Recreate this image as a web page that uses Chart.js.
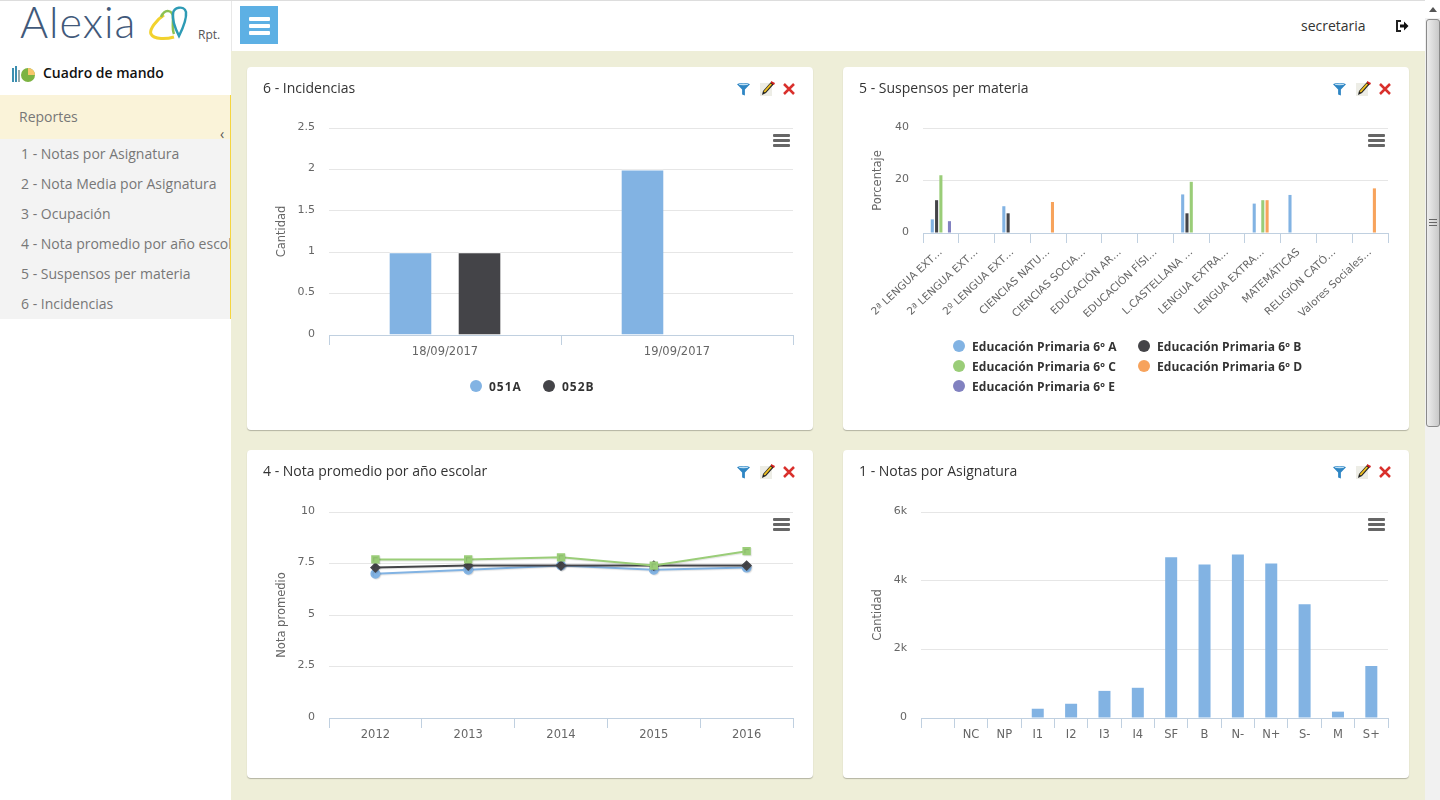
<!DOCTYPE html>
<html lang="es">
<head>
<meta charset="utf-8">
<title>Alexia Rpt.</title>
<script src="https://cdn.jsdelivr.net/npm/chart.js@4"></script>
<style>
  html, body { margin: 0; padding: 0; width: 1440px; height: 800px; overflow: hidden; background: #EEEED8; font-family: "Open Sans", sans-serif; color: #333; }
  .abs { position: absolute; }
  #topline { left: 0; top: 0; width: 1425px; height: 1px; background: #ddd; z-index: 5; }
  #sidebar { left: 0; top: 0; width: 231px; height: 800px; background: #fff; }
  #header { left: 231px; top: 0; width: 1194px; height: 51px; background: #fff; border-left: 1px solid #e8e8e8; box-sizing: border-box; }
  #logo { left: 20px; top: -4px; font: 300 43px Lato, sans-serif; color: #41597A; letter-spacing: 1px; }
  #rpt { left: 198px; top: 26px; font-size: 12px; color: #555; }
  #mando { left: 43px; top: 63px; font-size: 14px; font-weight: 600; color: #111; }
  #reportes { left: 0; top: 95px; width: 230px; height: 44px; background: #FAF3D9; }
  #reportes span { position: absolute; left: 19px; top: 12px; font-size: 14px; color: #777; }
  #chev { left: 220px; top: 124px; font-size: 14px; color: #555; }
  #menu { left: 0; top: 139px; width: 230px; height: 180px; background: #F3F3F3; overflow: hidden; }
  #menu div { height: 30px; line-height: 30px; padding-left: 21px; font-size: 14px; color: #777; white-space: nowrap; }
  #edge { left: 230px; top: 95px; width: 1px; height: 224px; background: #F5D53F; }
  #burger { left: 240px; top: 6px; width: 38px; height: 38px; background: #5DB0E4; }
  #burger i { position: absolute; left: 9px; width: 21px; height: 3.5px; background: #fff; border-radius: 1px; }
  #user { left: 1301px; top: 16px; font-size: 14px; color: #333; }
  #scroll { left: 1425px; top: 0; width: 15px; height: 800px; background: #F1F1F1; }
  #scrolltop { left: 1425px; top: 0; width: 15px; height: 18px; background: #fff; }
  #arrow { left: 1429px; top: 7px; width: 0; height: 0; border-left: 4px solid transparent; border-right: 4px solid transparent; border-bottom: 5px solid #555; }
  #thumb { left: 1426px; top: 19px; width: 14px; height: 408px; background: linear-gradient(to right, #EDEDED, #C9C9C9); border: 1px solid #8A8A8A; border-radius: 3px; box-sizing: border-box; }
  #grip { left: 1429px; top: 219px; width: 8px; height: 7px; background: repeating-linear-gradient(to bottom, #666 0, #666 1px, transparent 1px, transparent 3px); }
  .card { position: absolute; background: #fff; border-radius: 4px; box-shadow: 0 1px 1px rgba(0,0,0,.25); }
  .card h3 { position: absolute; left: 16px; top: 11px; margin: 0; font-size: 14px; font-weight: 400; color: #333; }
  .card canvas { position: absolute; left: 0; top: 0; }
  .ctx { position: absolute; width: 17px; height: 13px; }
  .ctx i { display: block; height: 3px; margin-bottom: 2px; background: #666; border-radius: 1px; }
  .tool { position: absolute; top: 15px; }
  .leg { position: absolute; font-size: 12px; font-weight: 700; color: #333; white-space: nowrap; line-height: 16px; }
  .dot { position: absolute; width: 12px; height: 12px; border-radius: 50%; }
</style>
</head>
<body>
<div class="abs" id="sidebar"></div>
<div class="abs" id="header"></div>
<div class="abs" id="topline"></div>
<div class="abs" id="logo">Alexia</div>
<svg class="abs" style="left:148px;top:5px" width="42" height="38" viewBox="0 0 42 38" fill="none">
  <path d="M16 10C8 15 1 25 3 29c3 6 16 5 23 3" stroke="#F2D22E" stroke-width="3"/>
  <path d="M13 12c4-9 12-7 12 1 0 6-1 11 1 16" stroke="#8CC152" stroke-width="2.500"/>
  <path d="M25 9c0-7 11-9 13-2 1 8-4 18-7 24-3-6-7-15-6-22z" stroke="#2E9BB5" stroke-width="2.500"/>
</svg>
<div class="abs" id="rpt">Rpt.</div>
<svg class="abs" style="left:12px;top:63px" width="24" height="20" viewBox="0 0 24 20">
  <rect x="0" y="5" width="2" height="14" fill="#3D8FB0"/><rect x="3" y="3" width="2" height="16" fill="#3D8FB0"/><rect x="6" y="7" width="2" height="12" fill="#9aa"/>
  <circle cx="16" cy="12" r="7" fill="#7CB342"/><path d="M16 12V5a7 7 0 0 1 7 7z" fill="#F8C66B"/>
</svg>
<div class="abs" id="mando">Cuadro de mando</div>
<div class="abs" id="reportes"><span>Reportes</span></div>
<div class="abs" id="chev">‹</div>
<div class="abs" id="menu"></div>
<div class="abs" id="edge"></div>
<div class="abs" id="burger"><i style="top:11px"></i><i style="top:18px"></i><i style="top:25px"></i></div>
<div class="abs" id="user">secretaria</div>
<svg class="abs" style="left:1396px;top:20px" width="13" height="12" viewBox="0 0 13 12">
  <path d="M5 1H1v10h4" fill="none" stroke="#222" stroke-width="2"/><path d="M4 4.500h4V1.500L12.500 6 8 10.500v-3H4z" fill="#111"/>
</svg>
<div class="abs" id="scroll"></div>
<div class="abs" id="scrolltop"></div>
<div class="abs" id="arrow"></div>
<div class="abs" id="thumb"></div>
<div class="abs" id="grip"></div>
<div id="cards"></div>

<script>
const BLUE = '#82B3E3', DARK = '#444448', GREEN = '#9ACD78', ORANGE = '#F7A35C', PURPLE = '#8181C0';
const GRID = '#E6E6E6', AXIS = '#C0D0E0', TICK = '#666';
const Y_FONT = { family: 'DejaVu Sans', size: 11 };
const X_FONT = { family: 'DejaVu Sans', size: 11.5 };
const ROT_FONT = { family: 'DejaVu Sans', size: 10.5 };

const menuItems = ['1 - Notas por Asignatura', '2 - Nota Media por Asignatura', '3 - Ocupación', '4 - Nota promedio por año escolar', '5 - Suspensos per materia', '6 - Incidencias'];

// 6 - Incidencias
const incDates = ['18/09/2017', '19/09/2017'];
const inc051A = [1, 2];
const inc052B = [1, null];

// 5 - Suspensos per materia
const susLabels = ['2ª LENGUA EXT…', '2ª LENGUA EXT…', '2º LENGUA EXT…', 'CIENCIAS NATU…', 'CIENCIAS SOCIA…', 'EDUCACIÓN AR…', 'EDUCACIÓN FÍSI…', 'L.CASTELLANA …', 'LENGUA EXTRA…', 'LENGUA EXTRA…', 'MATEMÁTICAS', 'RELIGIÓN CATÓ…', 'Valores Sociales…'];
const sus6A = [5.2, null, 10.2, null, null, null, null, 14.7, null, 11.2, 14.5, null, null];
const sus6B = [12.5, null, 7.5, null, null, null, null, 7.5, null, null, null, null, null];
const sus6C = [22, null, null, null, null, null, null, 19.5, null, 12.5, null, null, null];
const sus6D = [null, null, null, 11.8, null, null, null, null, null, 12.5, null, null, 17];
const sus6E = [4.5, null, null, null, null, null, null, null, null, null, null, null, null];

// 4 - Nota promedio por año escolar
const years = ['2012', '2013', '2014', '2015', '2016'];
const notaA = [7, 7.2, 7.4, 7.2, 7.3];
const notaB = [7.3, 7.4, 7.4, 7.4, 7.4];
const notaC = [7.7, 7.7, 7.8, 7.4, 8.1];

// 1 - Notas por Asignatura
const notaLabels = ['', 'NC', 'NP', 'I1', 'I2', 'I3', 'I4', 'SF', 'B', 'N-', 'N+', 'S-', 'M', 'S+'];
const notaCount = [null, null, null, 270, 415, 790, 880, 4680, 4470, 4760, 4500, 3310, 185, 1515];

document.getElementById('menu').innerHTML = menuItems.map(t => '<div>' + t + '</div>').join('');

// soft shadow under the lines of the year chart
const lineShadow = {
  id: 'lineShadow',
  beforeDatasetsDraw(chart) {
    const c = chart.ctx;
    c.save();
    c.shadowColor = 'rgba(0,0,0,0.1)';
    c.shadowOffsetX = 1;
    c.shadowOffsetY = 1;
    c.shadowBlur = 1;
  },
  afterDatasetsDraw(chart) { chart.ctx.restore(); }
};

// box: the card on the page, plot: the plot area on the page
function addCard(title, box, plot, titleX, config, legend) {
  const card = document.createElement('div');
  card.className = 'card';
  card.style.cssText = `left:${box.x}px;top:${box.y}px;width:${box.w}px;height:${box.h}px`;
  card.innerHTML = `<canvas width="${box.w}" height="${box.h}"></canvas><h3>${title}</h3>`;
  document.getElementById('cards').appendChild(card);

  // toolbar icons
  const ix = box.w - 76;
  card.insertAdjacentHTML('beforeend', `
    <svg class="tool" style="left:${ix}px" width="13" height="14" viewBox="0 0 14 14"><path d="M0 2c2-2 12-2 14 0L8.500 7.500V14L5.500 13V7.500z" fill="#2F86C4"/><ellipse cx="7" cy="2" rx="5" ry="1" fill="#BFE0F5"/></svg>
    <svg class="tool" style="left:${ix + 23}px;top:14px" width="15" height="16" viewBox="0 0 15 16"><rect x="0" y="2" width="12" height="13" fill="#EDEDE6"/><path d="M2 14l1-4 8-9 3 2-8 9z" fill="#222"/><path d="M3.500 10.500l7-8 1.500 1-7 8z" fill="#F0C020"/><path d="M11 0l4 2-1 2-3-2z" fill="#D02020"/></svg>
    <svg class="tool" style="left:${ix + 46}px;top:16px" width="12" height="12" viewBox="0 0 12 12"><path d="M1 1l10 10M11 1L1 11" stroke="#D9302C" stroke-width="2.500"/></svg>`);

  // export menu button of the chart
  card.insertAdjacentHTML('beforeend', `<div class="ctx" style="left:${plot.r - box.x - 20}px;top:${plot.t - box.y + 6}px"><i></i><i></i><i></i></div>`);

  const yTitleOff = titleX - box.x - 8;
  const yWidth = plot.l - box.x - yTitleOff;
  const xHeight = box.y + box.h - plot.b;

  config.options.scales.x.afterFit = s => { s.height = xHeight; };
  config.options.scales.y.afterFit = s => { s.width = yWidth; };
  config.options.layout = { padding: { left: yTitleOff, top: plot.t - box.y, right: box.x + box.w - plot.r, bottom: 0 } };
  config.options.responsive = false;
  config.options.animation = false;
  config.options.plugins = { legend: { display: false }, tooltip: { enabled: false } };

  new Chart(card.querySelector('canvas'), config);

  (legend || []).forEach(l => {
    card.insertAdjacentHTML('beforeend',
      `<span class="dot" style="left:${l.x - box.x - 6}px;top:${l.y - box.y - 6}px;background:${l.color}"></span>` +
      `<span class="leg" style="left:${l.x - box.x + 13}px;top:${l.y - box.y - 7}px;letter-spacing:${l.spacing}px">${l.text}</span>`);
  });
}

function xAxis(ticks) {
  return {
    offset: true,
    border: { color: AXIS },
    grid: { offset: true, drawOnChartArea: false, color: AXIS, tickColor: AXIS, tickLength: 10 },
    ticks: Object.assign({ color: TICK, font: X_FONT, padding: 0, maxRotation: 0, minRotation: 0, autoSkip: false }, ticks)
  };
}

function yAxis(title, max, step, cb) {
  return {
    min: 0, max: max,
    border: { display: false },
    grid: { color: GRID, drawTicks: false },
    title: { display: true, text: title, color: TICK, font: { family: 'DejaVu Sans', size: 11.5 }, padding: { top: 0, bottom: 0 } },
    ticks: { stepSize: step, color: TICK, font: Y_FONT, padding: 14, labelOffset: -1, callback: cb || (v => String(v)) }
  };
}

const incBar = { categoryPercentage: 0.595, barPercentage: 0.61, borderColor: '#fff', borderWidth: { top: 1, left: 0, right: 0, bottom: 0 } };
addCard('6 - Incidencias', { x: 247, y: 67, w: 566, h: 363 }, { l: 329, r: 793, t: 128, b: 335 }, 283, {
  type: 'bar',
  data: {
    labels: incDates,
    datasets: [
      Object.assign({ label: '051A', data: inc051A, backgroundColor: BLUE }, incBar),
      Object.assign({ label: '052B', data: inc052B, backgroundColor: DARK }, incBar)
    ]
  },
  options: { scales: { x: xAxis(), y: yAxis('Cantidad', 2.5, 0.5) } }
}, [
  { x: 476, y: 386, color: BLUE, text: '051A', spacing: 1 },
  { x: 549, y: 386, color: DARK, text: '052B', spacing: 1 }
]);

const susBar = { categoryPercentage: 0.6, barPercentage: 0.72 };
addCard('5 - Suspensos per materia', { x: 843, y: 67, w: 566, h: 363 }, { l: 923, r: 1388, t: 128, b: 233 }, 879, {
  type: 'bar',
  data: {
    labels: susLabels,
    datasets: [
      Object.assign({ label: 'Educación Primaria 6º A', data: sus6A, backgroundColor: BLUE }, susBar),
      Object.assign({ label: 'Educación Primaria 6º B', data: sus6B, backgroundColor: DARK }, susBar),
      Object.assign({ label: 'Educación Primaria 6º C', data: sus6C, backgroundColor: GREEN }, susBar),
      Object.assign({ label: 'Educación Primaria 6º D', data: sus6D, backgroundColor: ORANGE }, susBar),
      Object.assign({ label: 'Educación Primaria 6º E', data: sus6E, backgroundColor: PURPLE }, susBar)
    ]
  },
  options: { scales: {
    x: xAxis({ font: ROT_FONT, padding: 3, maxRotation: 43, minRotation: 43 }),
    y: yAxis('Porcentaje', 40, 20)
  } }
}, [
  { x: 959, y: 346, color: BLUE, text: 'Educación Primaria 6º A', spacing: 0.12 },
  { x: 1144, y: 346, color: DARK, text: 'Educación Primaria 6º B', spacing: 0.12 },
  { x: 959, y: 366, color: GREEN, text: 'Educación Primaria 6º C', spacing: 0.12 },
  { x: 1144, y: 366, color: ORANGE, text: 'Educación Primaria 6º D', spacing: 0.12 },
  { x: 959, y: 386, color: PURPLE, text: 'Educación Primaria 6º E', spacing: 0.12 }
]);

addCard('4 - Nota promedio por año escolar', { x: 247, y: 450, w: 566, h: 328 }, { l: 329, r: 793, t: 512, b: 718 }, 283, {
  type: 'line',
  plugins: [lineShadow],
  data: {
    labels: years,
    datasets: [
      { label: 'A', data: notaA, borderColor: BLUE, backgroundColor: BLUE, borderWidth: 2, tension: 0, pointStyle: 'circle', pointRadius: 4, order: 3 },
      { label: 'B', data: notaB, borderColor: DARK, backgroundColor: DARK, borderWidth: 2, tension: 0, pointStyle: 'rectRot', pointRadius: 4, order: 2 },
      { label: 'C', data: notaC, borderColor: GREEN, backgroundColor: GREEN, borderWidth: 2, tension: 0, pointStyle: 'rect', pointRadius: 4.5, order: 1 }
    ]
  },
  options: { scales: { x: xAxis(), y: yAxis('Nota promedio', 10, 2.5) } }
});

addCard('1 - Notas por Asignatura', { x: 843, y: 450, w: 566, h: 328 }, { l: 921, r: 1388, t: 512, b: 718 }, 879, {
  type: 'bar',
  data: {
    labels: notaLabels,
    datasets: [{ label: 'Cantidad', data: notaCount, backgroundColor: BLUE, categoryPercentage: 1, barPercentage: 0.36 }]
  },
  options: { scales: { x: xAxis(), y: yAxis('Cantidad', 6000, 2000, v => v === 0 ? '0' : (v / 1000) + 'k') } }
});
</script>
</body>
</html>
